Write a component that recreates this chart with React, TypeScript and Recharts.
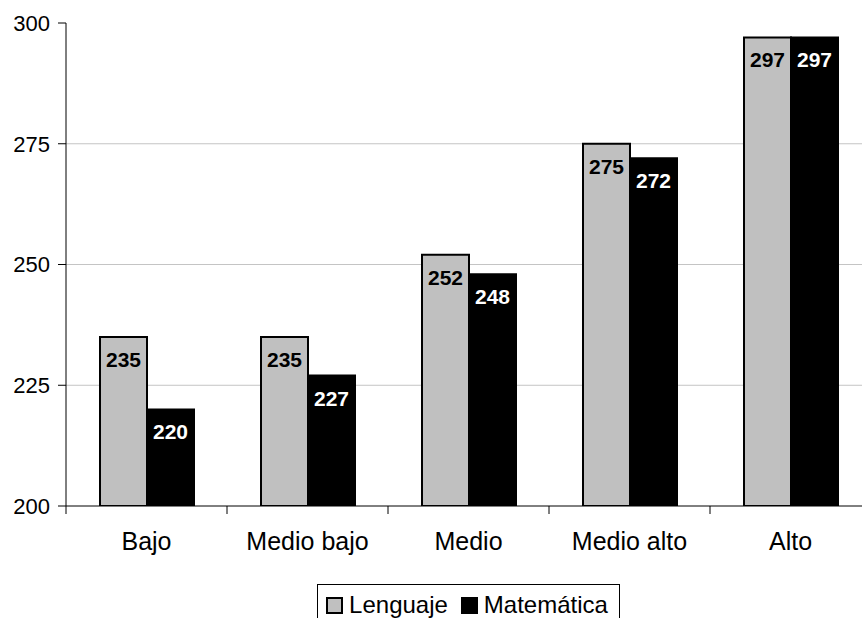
import React from 'react';
import { BarChart, Bar, XAxis, YAxis, CartesianGrid, LabelList, Legend } from 'recharts';

// puntaje promedio por nivel socioeconómico
const categories = ['Bajo', 'Medio bajo', 'Medio', 'Medio alto', 'Alto'];
const lenguaje = [235, 235, 252, 275, 297];
const matematica = [220, 227, 248, 272, 297];
const yTicks = [200, 225, 250, 275, 300];
const gridValues = [225, 250, 275];

const data = categories.map((nivel, i) => ({
  nivel,
  lenguaje: lenguaje[i],
  matematica: matematica[i],
}));

const FONT = 'Arial, "Liberation Sans", Helvetica, sans-serif';
const W = 880;
const H = 640;
const MARGIN = { top: 23, right: 9, left: 0, bottom: 74 };
const Y_WIDTH = 66;
const PLOT_W = W - MARGIN.left - MARGIN.right - Y_WIDTH;

// category label plus a tick mark on the band boundary instead of the centre
function CategoryTick(props: any) {
  const { x, y, payload } = props;
  const half = PLOT_W / categories.length / 2;
  const last = payload.index === categories.length - 1;
  return (
    <g>
      <line x1={x - half} y1={y} x2={x - half} y2={y + 8} stroke="#000" />
      {last && <line x1={x + half} y1={y} x2={x + half} y2={y + 8} stroke="#000" />}
      <text
        x={x} y={y + 26} dy="0.71em" textAnchor="middle"
        fontSize={25} fill="#000" fontFamily={FONT}
      >
        {payload.value}
      </text>
    </g>
  );
}

function ValueTick(props: any) {
  const { x, y, payload } = props;
  return (
    <text x={x} y={y} dy="0.355em" textAnchor="end" fontSize={22} fill="#000" fontFamily={FONT}>
      {payload.value}
    </text>
  );
}

function LegendBox({ payload }: any) {
  return (
    <div style={{ display: 'flex', justifyContent: 'center' }}>
      <div
        style={{
          display: 'inline-flex', alignItems: 'center', border: '1px solid #000',
          padding: '6px 11px 9px 8px', fontFamily: FONT, fontSize: 24, lineHeight: '28px',
          color: '#000', background: '#fff',
        }}
      >
        {(payload || []).map((entry: any, i: number) => (
          <span key={entry.value} style={{ display: 'inline-flex', alignItems: 'center', marginLeft: i ? 13 : 0 }}>
            <span
              style={{
                display: 'inline-block', width: 13, height: 13, background: entry.color,
                border: '2px solid #000', marginRight: 6,
              }}
            />
            {entry.value}
          </span>
        ))}
      </div>
    </div>
  );
}

export default function App() {
  return (
    <div
      style={{
        position: 'fixed', left: 0, top: 0, width: 862, height: 618,
        overflow: 'hidden', background: '#fff',
      }}
    >
      <BarChart width={W} height={H} data={data} margin={MARGIN} barGap={0}>
        <CartesianGrid vertical={false} horizontalValues={gridValues} stroke="#c4c4c4" />
        <XAxis
          dataKey="nivel" height={60} interval={0}
          tickSize={0} tickMargin={0} tickLine={false}
          axisLine={{ stroke: '#000' }} tick={<CategoryTick />}
        />
        <YAxis
          domain={[200, 300]} ticks={yTicks} interval={0} width={Y_WIDTH}
          tickSize={8} tickMargin={8} allowDataOverflow
          axisLine={{ stroke: '#000' }} tickLine={{ stroke: '#000' }}
          tick={<ValueTick />}
        />
        <Legend
          verticalAlign="middle" align="center" layout="horizontal"
          wrapperStyle={{ top: 584, left: Y_WIDTH, width: PLOT_W }}
          content={<LegendBox />}
        />
        <Bar
          dataKey="lenguaje" name="Lenguaje" fill="#c0c0c0" stroke="#000" strokeWidth={2}
          barSize={47} isAnimationActive={false}
        >
          <LabelList
            dataKey="lenguaje" position="insideTop" offset={15}
            fill="#000" fontSize={21} fontWeight="bold" fontFamily={FONT}
          />
        </Bar>
        <Bar
          dataKey="matematica" name="Matemática" fill="#000" stroke="#000" strokeWidth={2}
          barSize={47} isAnimationActive={false}
        >
          <LabelList
            dataKey="matematica" position="insideTop" offset={15}
            fill="#fff" fontSize={21} fontWeight="bold" fontFamily={FONT}
          />
        </Bar>
      </BarChart>
    </div>
  );
}
